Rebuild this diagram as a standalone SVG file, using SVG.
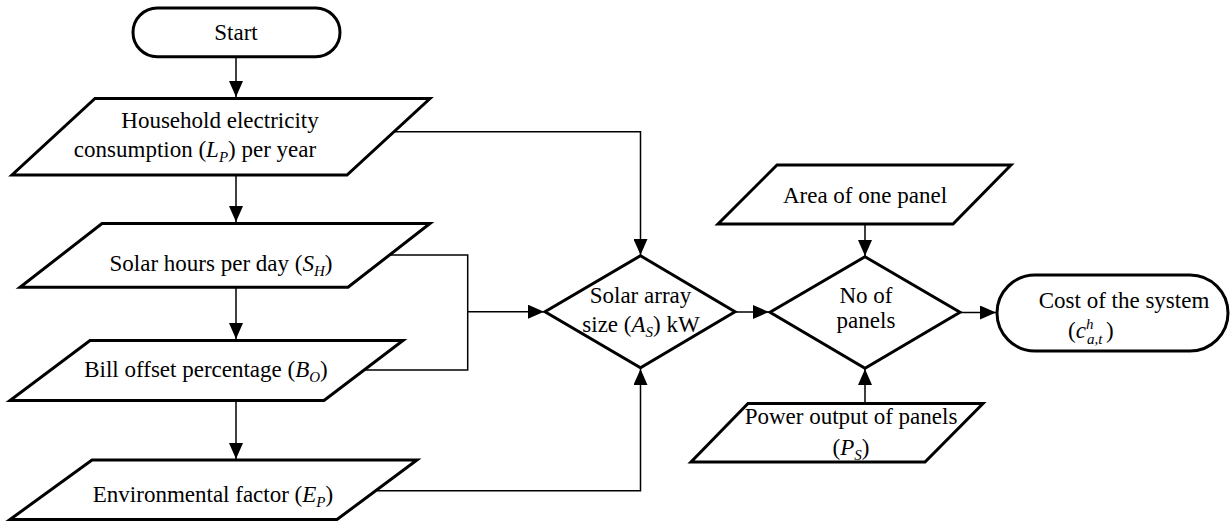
<svg xmlns="http://www.w3.org/2000/svg" width="1230" height="521" viewBox="0 0 1230 521">
<style>
.shape{fill:#fff;stroke:#000;stroke-width:3;stroke-linejoin:miter}
.conn{fill:none;stroke:#000;stroke-width:1.5}
text{font-family:"Liberation Serif","Times New Roman",serif;font-size:23px;fill:#000;text-anchor:middle}
.m{font-style:italic}
.s{font-style:italic;font-size:15px}
</style>
<defs>
<marker id="ah" markerWidth="16" markerHeight="14" refX="16" refY="7" orient="auto" markerUnits="userSpaceOnUse">
<path d="M0,0 L16,7 L0,14 Z" fill="#000"/>
</marker>
</defs>
<g id="connectors">
<path class="conn" d="M236,57 V97" marker-end="url(#ah)"/>
<path class="conn" d="M236,175 V222" marker-end="url(#ah)"/>
<path class="conn" d="M236,287 V339" marker-end="url(#ah)"/>
<path class="conn" d="M236,401 V459" marker-end="url(#ah)"/>
<path class="conn" d="M394,131.7 H640.5 V255" marker-end="url(#ah)"/>
<path class="conn" d="M389,255 H467.7 V370 H363"/>
<path class="conn" d="M467.7,311.7 H544" marker-end="url(#ah)"/>
<path class="conn" d="M377,490.7 H640.5 V369" marker-end="url(#ah)"/>
<path class="conn" d="M735,312 H769" marker-end="url(#ah)"/>
<path class="conn" d="M865,224 V256" marker-end="url(#ah)"/>
<path class="conn" d="M865,403 V369" marker-end="url(#ah)"/>
<path class="conn" d="M960,312.5 H996" marker-end="url(#ah)"/>
</g>
<g id="start">
<rect class="shape" x="133" y="8" width="207" height="48.7" rx="24.3"/>
<text x="236" y="40">Start</text>
</g>
<g id="household">
<polygon class="shape" points="95,98.5 430,98.5 347,175 12,175"/>
<text x="220" y="128">Household electricity</text>
<text x="195" y="157">consumption (<tspan class="m">L</tspan><tspan class="s" dy="5">P</tspan><tspan dy="-5">) per year</tspan></text>
</g>
<g id="solar-hours">
<polygon class="shape" points="102,223.5 430,223.5 348,287.3 20,287.3"/>
<text x="221" y="271">Solar hours per day (<tspan class="m">S</tspan><tspan class="s" dy="5">H</tspan><tspan dy="-5">)</tspan></text>
</g>
<g id="bill-offset">
<polygon class="shape" points="90,340.5 403,340.5 324,400.5 10,400.5"/>
<text x="206" y="377">Bill offset percentage (<tspan class="m">B</tspan><tspan class="s" dy="5">O</tspan><tspan dy="-5">)</tspan></text>
</g>
<g id="environmental">
<polygon class="shape" points="92,460 417,460 337,519.5 10,519.5"/>
<text x="213" y="502">Environmental factor (<tspan class="m">E</tspan><tspan class="s" dy="5">P</tspan><tspan dy="-5">)</tspan></text>
</g>
<g id="solar-array">
<polygon class="shape" points="640.5,255.7 735,311.7 640.5,367.7 545,311.7"/>
<text x="640.5" y="303">Solar array</text>
<text x="641" y="332">size (<tspan class="m">A</tspan><tspan class="s" dy="5">S</tspan><tspan dy="-5">) kW</tspan></text>
</g>
<g id="area-panel">
<polygon class="shape" points="777,165 1011,165 953,224 718,224"/>
<text x="865" y="203">Area of one panel</text>
</g>
<g id="no-of-panels">
<polygon class="shape" points="865,256.7 960,312.3 865,368.3 770,312.3"/>
<text x="866" y="303">No of</text>
<text x="866" y="328">panels</text>
</g>
<g id="power-output">
<polygon class="shape" points="748,403.5 983,403.5 925,462 691,462"/>
<text x="851" y="424">Power output of panels</text>
<text x="851" y="455">(<tspan class="m">P</tspan><tspan class="s" dy="5">S</tspan><tspan dy="-5">)</tspan></text>
</g>
<g id="cost">
<rect class="shape" x="997" y="275" width="231" height="76" rx="38"/>
<text x="1124" y="308">Cost of the system</text>
<text x="1068" y="338" style="text-anchor:start">(<tspan class="m">c</tspan><tspan class="s" dy="-9">h</tspan><tspan class="s" x="1087" dy="15">a,t</tspan><tspan x="1106" dy="-6">)</tspan></text>
</g>
</svg>
